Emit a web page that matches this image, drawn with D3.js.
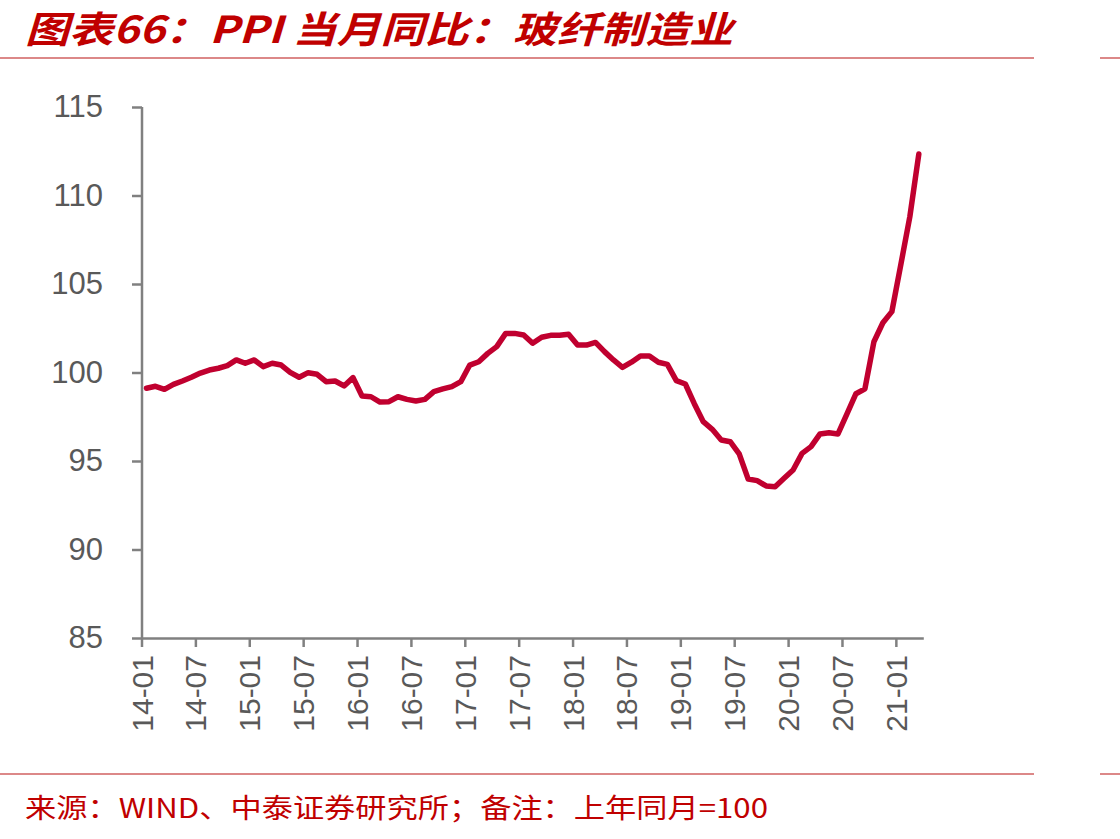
<!DOCTYPE html>
<html><head><meta charset="utf-8">
<script src="https://cdn.jsdelivr.net/npm/d3@7"></script>
<style>body{margin:0;background:#fff}svg{display:block}</style>
</head><body>
<script>
const titleText = "图表66：PPI 当月同比：玻纤制造业";
const sourceText = "来源：WIND、中泰证券研究所；备注：上年同月=100";
const startYear = 2014, startMonth = 1;
const values = [
 99.11, 99.22, 99.05, 99.33, 99.52, 99.73, 99.97, 100.14, 100.24, 100.39, 100.71, 100.52,
 100.71, 100.33, 100.52, 100.42, 100.01, 99.73, 99.99, 99.90, 99.48, 99.52, 99.24, 99.71,
 98.67, 98.63, 98.33, 98.35, 98.63, 98.48, 98.39, 98.48, 98.92, 99.07, 99.20, 99.48,
 100.42, 100.61, 101.08, 101.46, 102.21, 102.21, 102.12, 101.65, 101.99, 102.10, 102.10, 102.16,
 101.55, 101.55, 101.70, 101.18, 100.71, 100.29, 100.58, 100.93, 100.93, 100.58, 100.46, 99.54,
 99.35, 98.24, 97.22, 96.79, 96.19, 96.09, 95.40, 93.98, 93.89, 93.59, 93.55, 94.02,
 94.49, 95.43, 95.81, 96.53, 96.60, 96.53, 97.66, 98.80, 99.08, 101.74, 102.81, 103.44,
 106.1, 108.8, 112.34
];
const yTicks = [85, 90, 95, 100, 105, 110, 115];
const categories = values.map((v, i) => {
  const m = startMonth - 1 + i;
  const yy = (startYear + Math.floor(m / 12)) % 100;
  const mm = m % 12 + 1;
  return String(yy).padStart(2, "0") + "-" + String(mm).padStart(2, "0");
});
const xTickLabels = categories.filter((c, i) => i % 6 === 0);

const W = 1120, H = 839;
const svg = d3.select("body").append("svg").attr("width", W).attr("height", H);

const red = "#C00000";
const lineRed = "#D06060";
const axisGrey = "#808080";
const textGrey = "#595959";

// title
svg.append("text").attr("x", 25).attr("y", 43)
  .attr("fill", red)
  .attr("textLength", 708).attr("lengthAdjust", "spacingAndGlyphs")
  .style("font-family", "'Noto Sans CJK SC', 'Liberation Sans', sans-serif")
  .style("font-weight", "bold").style("font-style", "italic")
  .style("font-size", "37px")
  .text(titleText);

// separator lines
[58, 774].forEach(y => {
  svg.append("line").attr("x1", 0).attr("x2", 1034).attr("y1", y).attr("y2", y)
    .attr("stroke", lineRed).attr("stroke-width", 1.5);
  svg.append("line").attr("x1", 1100).attr("x2", 1120).attr("y1", y).attr("y2", y)
    .attr("stroke", lineRed).attr("stroke-width", 1.5);
});

// source
svg.append("text").attr("x", 25).attr("y", 818)
  .attr("fill", red)
  .attr("textLength", 743).attr("lengthAdjust", "spacingAndGlyphs")
  .style("font-family", "'Noto Sans CJK SC', 'Liberation Sans', sans-serif")
  .style("font-size", "27px")
  .text(sourceText);

const x = d3.scaleBand().domain(categories).range([142, 923.3]).paddingInner(0).paddingOuter(0);
const y = d3.scaleLinear().domain([85, 115]).range([638, 107]);

// y axis
const yAxis = svg.append("g").attr("transform", "translate(142,0)")
  .call(d3.axisLeft(y).tickValues(yTicks).tickSize(10).tickPadding(29).tickFormat(d3.format("d")));
yAxis.select(".domain").attr("stroke", axisGrey).attr("stroke-width", 2.5).attr("d", "M0,107V638");
yAxis.selectAll(".tick line").attr("stroke", axisGrey).attr("stroke-width", 2.5);
yAxis.selectAll(".tick text").attr("fill", textGrey)
  .style("font-family", "'Liberation Sans', Arial, sans-serif").style("font-size", "31px");

// x axis
const xAxis = svg.append("g").attr("transform", "translate(0,638)")
  .call(d3.axisBottom(x).tickValues(xTickLabels).tickSize(9).tickSizeOuter(0));
xAxis.select(".domain").attr("stroke", axisGrey).attr("stroke-width", 2.5);
xAxis.selectAll(".tick").attr("transform", d => `translate(${x(d)},0)`);
xAxis.selectAll(".tick line").attr("stroke", axisGrey).attr("stroke-width", 2.5);
xAxis.selectAll(".tick text")
  .attr("fill", textGrey)
  .style("font-family", "'Liberation Sans', Arial, sans-serif").style("font-size", "30px")
  .attr("text-anchor", "end")
  .attr("transform", "rotate(-90)")
  .attr("x", -17).attr("y", 0).attr("dy", "0.35em");

// line
const line = d3.line()
  .x((d, i) => x(categories[i]) + x.bandwidth() / 2)
  .y(d => y(d));
svg.append("path").datum(values)
  .attr("d", line)
  .attr("fill", "none")
  .attr("stroke", "#C0002F")
  .attr("stroke-width", 5.5)
  .attr("stroke-linejoin", "round")
  .attr("stroke-linecap", "round");
</script>
</body></html>
